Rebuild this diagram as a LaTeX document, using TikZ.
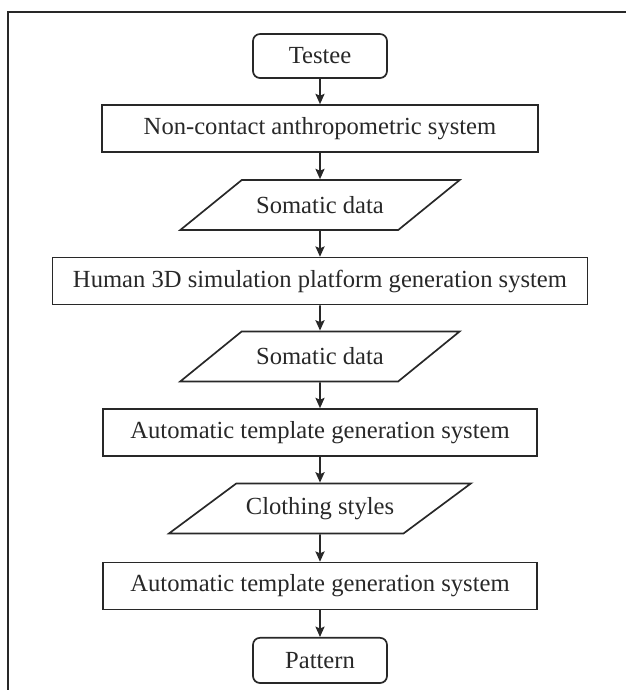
\documentclass[tikz,border=0pt]{standalone}
\usepackage{fontspec}
\setmainfont{Liberation Serif}
\usetikzlibrary{arrows.meta,positioning,shapes.geometric}
\definecolor{inkgray}{RGB}{40,40,40}

\begin{document}
\begin{tikzpicture}[
  font=\fontsize{17.5}{21}\selectfont,
  >={Stealth[length=2.6mm,width=2.3mm,inset=0.5mm]},
  every node/.style={text=inkgray},
  terminal/.style={draw=inkgray, line width=1.2pt, rounded corners=5pt, minimum width=3.35cm, minimum height=1.1cm, align=center},
  process/.style={draw=inkgray, line width=1.2pt, minimum height=1.17cm, align=center},
  iodata/.style={draw=inkgray, line width=1.2pt, trapezium, trapezium left angle=28, trapezium right angle=152, trapezium stretches=true, minimum height=1.25cm, inner xsep=0pt, align=center},
  flow/.style={->, draw=inkgray, line width=1.1pt},
]

% Page and frame
\useasboundingbox (0,0) rectangle (15.65,-17.25);
\draw[inkgray, line width=0.9pt] (0.2,-17.6) -- (0.2,-0.3) -- (15.9,-0.3);

\def\xcol{8}

% ========== Start ==========
\node[terminal] (testee) at (\xcol, -1.4) {Testee};

% ========== Measuring ==========
\node[process, minimum width=10.9cm] (anthro) at (\xcol, -3.21) {Non-contact anthropometric system};
\node[iodata, minimum width=7cm] (soma1) at (\xcol, -5.125) {Somatic data};

% ========== Simulation ==========
\node[process, minimum width=13.38cm] (human) at (\xcol, -7.025) {Human 3D simulation platform generation system};
\node[iodata, minimum width=7cm] (soma2) at (\xcol, -8.91) {Somatic data};

% ========== Templates ==========
\node[process, minimum width=10.85cm] (auto1) at (\xcol, -10.81) {Automatic template generation system};
\node[iodata, minimum width=7.55cm] (cloth) at (\xcol, -12.71) {Clothing styles};
\node[process, minimum width=10.85cm] (auto2) at (\xcol, -14.65) {Automatic template generation system};

% ========== End ==========
\node[terminal, minimum height=1.13cm] (pattern) at (\xcol, -16.51) {Pattern};

% Connectors
\draw[flow] (testee) -- (anthro);
\draw[flow] (anthro) -- (soma1);
\draw[flow] (soma1) -- (human);
\draw[flow] (human) -- (soma2);
\draw[flow] (soma2) -- (auto1);
\draw[flow] (auto1) -- (cloth);
\draw[flow] (cloth) -- (auto2);
\draw[flow] (auto2) -- (pattern);

\end{tikzpicture}
\end{document}
